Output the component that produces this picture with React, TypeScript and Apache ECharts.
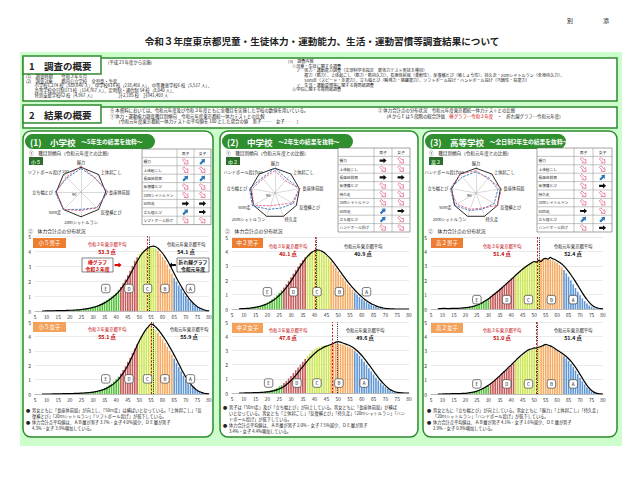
import React, { useEffect, useRef } from 'react';
import * as echarts from 'echarts';

const FONT = '"Noto Sans CJK JP", "Noto Sans", sans-serif';

// ---------- data ----------
const SCORES = [
  8, 9, 10, 11, 12, 13, 14, 15, 16, 17,
  18, 19, 20, 21, 22, 23, 24, 25, 26, 27,
  28, 29, 30, 31, 32, 33, 34, 35, 36, 37,
  38, 39, 40, 41, 42, 43, 44, 45, 46, 47,
  48, 49, 50, 51, 52, 53, 54, 55, 56, 57,
  58, 59, 60, 61, 62, 63, 64, 65, 66, 67,
  68, 69, 70, 71, 72, 73, 74, 75, 76, 77,
  78, 79, 80,
];

const S5_BOYS_R3 = [
  0, 0, 0.01, 0.01, 0.01, 0.02, 0.02, 0.03, 0.03, 0.04,
  0.04, 0.05, 0.06, 0.07, 0.08, 0.09, 0.1, 0.12, 0.14, 0.17,
  0.2, 0.24, 0.28, 0.33, 0.39, 0.46, 0.54, 0.63, 0.73, 0.84,
  0.95, 1.05, 1.2, 1.38, 1.6, 1.85, 2.1, 2.38, 2.68, 3.0,
  3.35, 3.58, 3.8, 3.93, 4.03, 4.12, 4.2, 4.25, 4.22, 4.15,
  4.02, 3.82, 3.6, 3.38, 3.1, 2.8, 2.5, 2.2, 1.95, 1.7,
  1.48, 1.22, 1.0, 0.82, 0.64, 0.5, 0.37, 0.26, 0.18, 0.11,
  0.06, 0.03, 0.01,
];
const S5_BOYS_R1 = [
  0, 0, 0.01, 0.01, 0.01, 0.01, 0.02, 0.02, 0.02, 0.03,
  0.03, 0.04, 0.05, 0.05, 0.06, 0.07, 0.08, 0.1, 0.12, 0.14,
  0.17, 0.2, 0.24, 0.28, 0.33, 0.39, 0.46, 0.54, 0.63, 0.73,
  0.85, 0.98, 1.12, 1.28, 1.46, 1.67, 1.9, 2.15, 2.42, 2.72,
  3.02, 3.3, 3.57, 3.8, 3.98, 4.12, 4.22, 4.3, 4.32, 4.28,
  4.18, 4.03, 3.85, 3.63, 3.38, 3.1, 2.8, 2.5, 2.2, 1.92,
  1.65, 1.38, 1.14, 0.92, 0.72, 0.55, 0.41, 0.29, 0.2, 0.13,
  0.07, 0.03, 0.01,
];
const S5_GIRLS_R3 = [
  0, 0, 0, 0, 0.01, 0.01, 0.01, 0.01, 0.02, 0.02,
  0.02, 0.03, 0.03, 0.04, 0.04, 0.05, 0.06, 0.07, 0.08, 0.09,
  0.11, 0.13, 0.16, 0.19, 0.23, 0.28, 0.34, 0.41, 0.5, 0.6,
  0.72, 0.86, 1.02, 1.2, 1.42, 1.66, 1.93, 2.22, 2.52, 2.84,
  3.15, 3.45, 3.75, 4.02, 4.26, 4.48, 4.65, 4.72, 4.62, 4.46,
  4.26, 4.03, 3.8, 3.55, 3.28, 3.0, 2.72, 2.45, 2.15, 1.85,
  1.56, 1.28, 1.02, 0.8, 0.61, 0.45, 0.32, 0.22, 0.14, 0.08,
  0.04, 0.02, 0.01,
];
const S5_GIRLS_R1 = [
  0, 0, 0, 0, 0, 0.01, 0.01, 0.01, 0.01, 0.02,
  0.02, 0.02, 0.03, 0.03, 0.04, 0.04, 0.05, 0.06, 0.07, 0.08,
  0.09, 0.11, 0.13, 0.16, 0.19, 0.23, 0.28, 0.34, 0.41, 0.5,
  0.6, 0.72, 0.86, 1.02, 1.22, 1.45, 1.7, 1.98, 2.3, 2.64,
  3.0, 3.36, 3.7, 4.0, 4.28, 4.52, 4.7, 4.85, 4.8, 4.65,
  4.48, 4.28, 4.06, 3.82, 3.56, 3.28, 3.0, 2.7, 2.4, 2.08,
  1.76, 1.46, 1.18, 0.92, 0.7, 0.52, 0.37, 0.25, 0.16, 0.1,
  0.05, 0.02, 0.01,
];
const M2_BOYS_R3 = [
  0.02, 0.03, 0.04, 0.05, 0.07, 0.09, 0.12, 0.15, 0.19, 0.24,
  0.3, 0.37, 0.45, 0.55, 0.67, 0.8, 0.95, 1.12, 1.3, 1.5,
  1.72, 1.95, 2.2, 2.45, 2.7, 2.95, 3.18, 3.4, 3.6, 3.76,
  3.9, 4.0, 4.06, 4.08, 4.04, 3.96, 3.84, 3.68, 3.5, 3.3,
  3.08, 2.85, 2.62, 2.38, 2.15, 1.93, 1.72, 1.52, 1.33, 1.15,
  0.99, 0.84, 0.71, 0.59, 0.48, 0.38, 0.3, 0.23, 0.17, 0.12,
  0.08, 0.05, 0.03, 0.02, 0.01, 0.01, 0, 0, 0, 0,
  0, 0, 0,
];
const M2_BOYS_R1 = [
  0.01, 0.02, 0.03, 0.04, 0.05, 0.07, 0.09, 0.12, 0.15, 0.19,
  0.24, 0.3, 0.37, 0.45, 0.55, 0.66, 0.79, 0.94, 1.1, 1.28,
  1.48, 1.7, 1.94, 2.2, 2.46, 2.72, 2.98, 3.22, 3.45, 3.65,
  3.82, 3.96, 4.05, 4.1, 4.08, 4.02, 3.92, 3.78, 3.62, 3.44,
  3.24, 3.02, 2.8, 2.57, 2.34, 2.12, 1.9, 1.7, 1.5, 1.32,
  1.15, 0.99, 0.84, 0.7, 0.58, 0.47, 0.37, 0.29, 0.22, 0.16,
  0.11, 0.07, 0.04, 0.02, 0.01, 0.01, 0, 0, 0, 0,
  0, 0, 0,
];
const M2_GIRLS_R3 = [
  0, 0, 0.01, 0.01, 0.02, 0.02, 0.03, 0.04, 0.05, 0.06,
  0.08, 0.1, 0.13, 0.17, 0.22, 0.28, 0.35, 0.45, 0.56, 0.7,
  0.85, 1.02, 1.2, 1.4, 1.6, 1.8, 2.0, 2.2, 2.4, 2.6,
  2.78, 2.95, 3.08, 3.18, 3.25, 3.3, 3.34, 3.38, 3.4, 3.44,
  3.47, 3.5, 3.48, 3.45, 3.4, 3.35, 3.28, 3.2, 3.1, 2.95,
  2.8, 2.62, 2.42, 2.2, 1.98, 1.75, 1.52, 1.3, 1.08, 0.88,
  0.7, 0.54, 0.4, 0.28, 0.19, 0.12, 0.07, 0.04, 0.02, 0.01,
  0, 0, 0,
];
const M2_GIRLS_R1 = [
  0, 0, 0, 0.01, 0.01, 0.01, 0.02, 0.02, 0.03, 0.04,
  0.05, 0.06, 0.08, 0.1, 0.13, 0.17, 0.22, 0.28, 0.36, 0.46,
  0.58, 0.72, 0.88, 1.05, 1.24, 1.44, 1.65, 1.86, 2.06, 2.26,
  2.45, 2.62, 2.78, 2.92, 3.04, 3.14, 3.23, 3.3, 3.36, 3.42,
  3.5, 3.58, 3.62, 3.58, 3.52, 3.46, 3.4, 3.33, 3.24, 3.12,
  2.98, 2.82, 2.64, 2.44, 2.22, 2.0, 1.77, 1.54, 1.31, 1.09,
  0.88, 0.69, 0.52, 0.37, 0.25, 0.16, 0.09, 0.05, 0.02, 0.01,
  0, 0, 0,
];
const H2_BOYS_R3 = [
  0.02, 0.02, 0.03, 0.03, 0.03, 0.04, 0.04, 0.05, 0.05, 0.06,
  0.07, 0.08, 0.1, 0.12, 0.15, 0.19, 0.24, 0.3, 0.37, 0.45,
  0.54, 0.64, 0.75, 0.88, 1.0, 1.13, 1.26, 1.4, 1.54, 1.68,
  1.82, 1.96, 2.1, 2.24, 2.38, 2.52, 2.66, 2.8, 2.92, 3.04,
  3.14, 3.24, 3.3, 3.36, 3.4, 3.44, 3.46, 3.48, 3.46, 3.44,
  3.38, 3.3, 3.2, 3.06, 2.9, 2.7, 2.48, 2.24, 1.98, 1.72,
  1.46, 1.2, 0.96, 0.74, 0.55, 0.38, 0.25, 0.15, 0.08, 0.04,
  0.02, 0.01, 0,
];
const H2_BOYS_R1 = [
  0.01, 0.02, 0.05, 0.04, 0.03, 0.03, 0.04, 0.05, 0.04, 0.05,
  0.06, 0.08, 0.09, 0.11, 0.13, 0.17, 0.21, 0.26, 0.33, 0.4,
  0.5, 0.6, 0.7, 0.82, 0.95, 1.08, 1.2, 1.34, 1.48, 1.62,
  1.77, 1.92, 2.06, 2.2, 2.36, 2.5, 2.64, 2.78, 2.9, 3.02,
  3.12, 3.22, 3.3, 3.25, 3.38, 3.3, 3.48, 3.52, 3.46, 3.58,
  3.5, 3.44, 3.34, 3.24, 3.12, 2.98, 2.8, 2.6, 2.38, 2.14,
  1.9, 1.64, 1.38, 1.12, 0.88, 0.66, 0.46, 0.3, 0.18, 0.1,
  0.05, 0.02, 0.01,
];
const H2_GIRLS_R3 = [
  0, 0, 0.01, 0.01, 0.01, 0.02, 0.02, 0.02, 0.03, 0.03,
  0.04, 0.05, 0.06, 0.08, 0.1, 0.13, 0.17, 0.22, 0.28, 0.35,
  0.43, 0.52, 0.62, 0.74, 0.87, 1.0, 1.14, 1.28, 1.42, 1.56,
  1.7, 1.84, 1.98, 2.12, 2.27, 2.42, 2.57, 2.7, 2.82, 2.93,
  3.02, 3.1, 3.17, 3.22, 3.27, 3.32, 3.36, 3.38, 3.34, 3.28,
  3.2, 3.1, 2.98, 2.86, 2.74, 2.62, 2.48, 2.3, 2.1, 1.88,
  1.64, 1.38, 1.12, 0.88, 0.66, 0.46, 0.3, 0.18, 0.1, 0.05,
  0.02, 0.01, 0,
];
const H2_GIRLS_R1 = [
  0, 0, 0, 0.01, 0.01, 0.01, 0.02, 0.02, 0.02, 0.03,
  0.03, 0.04, 0.05, 0.07, 0.09, 0.12, 0.15, 0.2, 0.26, 0.33,
  0.41, 0.5, 0.6, 0.72, 0.84, 0.98, 1.12, 1.26, 1.42, 1.56,
  1.72, 1.88, 2.02, 2.18, 2.34, 2.5, 2.64, 2.78, 2.9, 3.02,
  3.1, 3.14, 3.2, 3.18, 3.26, 3.3, 3.38, 3.44, 3.4, 3.34,
  3.26, 3.16, 3.06, 2.95, 2.84, 2.72, 2.6, 2.45, 2.28, 2.08,
  1.86, 1.62, 1.36, 1.1, 0.84, 0.6, 0.4, 0.24, 0.13, 0.06,
  0.03, 0.01, 0,
];

// five-level bands (upper bound of E, D, C, B)
const BAND_LETTERS = ['E', 'D', 'C', 'B', 'A'];
const CUTS_ES = [41, 49, 57, 64];
const CUTS_JH = [26, 36, 46, 56];
const CUTS_HS = [30, 41, 52, 62];

// Tokyo means (R3 / R1)
const MEAN_R3 = [53.3, 55.1, 40.1, 47.6, 51.4, 51.0];
const MEAN_R1 = [54.1, 55.9, 40.9, 49.6, 52.4, 51.4];
const CHART_TABS = ['小５男子', '小５女子', '中２男子', '中２女子', '高２男子', '高２女子'];

// radar items
const ITEMS_ES = ['握力', '上体起こし', '長座体前屈', '反復横とび', '20mシャトルラン', '50m走', '立ち幅とび', 'ソフトボール投げ'];
const ITEMS_JH = ['握力', '上体起こし', '長座体前屈', '反復横とび', '持久走', '20mシャトルラン', '50m走', '立ち幅とび', 'ハンドボール投げ'];
const ITEMS_HS = ['握力', '上体起こし', '長座体前屈', '反復横とび', '持久走', '20mシャトルラン', '50m走', '立ち幅とび', 'ハンドボール投げ'];
const BASE_ES = [100, 100, 100, 100, 100, 100, 100, 100];
const BASE_JH = [100, 100, 100, 100, 100, 100, 100, 100, 100];
const ES_BOYS = [99, 96, 101.5, 98, 94, 100, 101, 96];
const ES_GIRLS = [101, 96, 102, 98, 95, 100, 100, 97];
const JH_BOYS = [100, 95, 100, 97, 93, 94, 101, 101, 96];
const JH_GIRLS = [98, 93, 100, 96, 90, 91, 100, 99, 95];
const HS_BOYS = [97, 96, 98, 97, 94, 95, 100, 101, 97];
const HS_GIRLS = [98, 95, 101, 100, 93, 94, 98, 101, 100];

// trend table (U: up, D: down, S: same)
const TR_ES_BOYS = ['D', 'D', 'U', 'D', 'D', 'S', 'U', 'D'];
const TR_ES_GIRLS = ['U', 'D', 'U', 'D', 'D', 'S', 'S', 'D'];
const TR_JH_BOYS = ['S', 'D', 'S', 'D', 'D', 'D', 'U', 'U', 'D'];
const TR_JH_GIRLS = ['D', 'D', 'S', 'D', 'D', 'D', 'S', 'D', 'D'];
const TR_HS_BOYS = ['D', 'D', 'D', 'D', 'D', 'D', 'S', 'U', 'D'];
const TR_HS_GIRLS = ['D', 'D', 'U', 'S', 'D', 'D', 'D', 'U', 'S'];

// ---------- styles / layout ----------
const BAND_COLORS = ['#55c23e', '#c65b5b', '#cde752', '#f6aa62', '#6197d4'];
const GREEN = '#2e8b2e';
const DARK_GREEN = '#2f8f2f';

const DISTS = [
  { r3: S5_BOYS_R3, r1: S5_BOYS_R1, cuts: CUTS_ES },
  { r3: S5_GIRLS_R3, r1: S5_GIRLS_R1, cuts: CUTS_ES },
  { r3: M2_BOYS_R3, r1: M2_BOYS_R1, cuts: CUTS_JH },
  { r3: M2_GIRLS_R3, r1: M2_GIRLS_R1, cuts: CUTS_JH },
  { r3: H2_BOYS_R3, r1: H2_BOYS_R1, cuts: CUTS_HS },
  { r3: H2_GIRLS_R3, r1: H2_GIRLS_R1, cuts: CUTS_HS },
];

const LAYOUT = [
  { grid: { left: 35, top: 236, width: 174, height: 75 }, tab: [33, 238, 33], r3: [107, 244], r1: [186, 244], ly: 1.5, lx: [35.5, 45.5, 53.5, 61, 72] },
  { grid: { left: 35, top: 322, width: 174, height: 72 }, tab: [33, 322, 33], r3: [107, 329], r1: [189, 329], ly: 1.05, lx: [35.5, 45.5, 53.5, 61, 72] },
  { grid: { left: 232, top: 237, width: 177, height: 72 }, tab: [232, 238, 31], r3: [288, 246], r1: [363, 246], ly: 1.2, lx: [20, 31, 41, 50.5, 62] },
  { grid: { left: 232, top: 322, width: 177, height: 71 }, tab: [232, 323, 31], r3: [288, 330], r1: [365, 330], ly: 0.7, lx: [20.5, 32.5, 41, 50.3, 61] },
  { grid: { left: 431, top: 237, width: 172, height: 72 }, tab: [431, 238, 32], r3: [502, 246], r1: [573, 246], ly: 0.65, lx: [25, 38, 47.5, 57.5, 67] },
  { grid: { left: 431, top: 322, width: 172, height: 72 }, tab: [431, 323, 32], r3: [502, 330], r1: [573, 330], ly: 0.7, lx: [25, 38, 47.5, 57.5, 67] },
];

// ---------- helpers ----------
function T(x: number, y: number, text: string, o: any = {}) {
  const align = o.align || 'left';
  const va = o.va || 'middle';
  return {
    type: 'text', x, y, z: o.z ?? 30, silent: true,
    style: {
      text, fill: o.color || '#222', fontSize: o.size || 5, fontFamily: FONT,
      fontWeight: o.bold ? 'bold' : 'normal',
      align, verticalAlign: va, textAlign: align, textVerticalAlign: va,
      rich: o.rich,
    },
  };
}
function R(x: number, y: number, w: number, h: number, o: any = {}) {
  return {
    type: 'rect', z: o.z ?? 1, silent: true,
    shape: { x, y, width: w, height: h, r: o.r || 0 },
    style: { fill: o.fill ?? '#fff', stroke: o.stroke || null, lineWidth: o.lw ?? 1 },
  };
}
function L(x1: number, y1: number, x2: number, y2: number, o: any = {}) {
  return {
    type: 'line', z: o.z ?? 20, silent: true,
    shape: { x1, y1, x2, y2 },
    style: { stroke: o.color || '#999', lineWidth: o.lw || 0.5 },
  };
}
const ARROW = [[-3.4, -1.1], [0.5, -1.1], [0.5, -2.6], [3.6, 0], [0.5, 2.6], [0.5, 1.1], [-3.4, 1.1]];
function arrow(cx: number, cy: number, t: string, o: any = {}) {
  let style: any;
  let rot = 0;
  if (t === 'U') { style = { fill: '#2e75b6' }; rot = Math.PI / 4; }
  else if (t === 'D') { style = { fill: '#fff', stroke: '#e2607e', lineWidth: 0.7 }; rot = -Math.PI / 4; }
  else if (t === 'L') { style = { fill: o.fill || '#111' }; rot = Math.PI; }
  else { style = { fill: o.fill || '#111' }; rot = 0; }
  return { type: 'polygon', x: cx, y: cy, rotation: rot, z: 32, silent: true, shape: { points: ARROW }, style };
}
function bandIndex(s: number, cuts: number[]) {
  let i = 0;
  while (i < cuts.length && s > cuts[i]) i++;
  return i;
}
function clockwise<T>(arr: T[]): T[] {
  return [arr[0], ...arr.slice(1).reverse()];
}
function table(x: number, y: number, cw: number[], rh: number, items: string[], boys: string[], girls: string[]) {
  const els: any[] = [];
  const W = cw[0] + cw[1] + cw[2];
  const n = items.length + 1;
  els.push(R(x, y, W, rh * n, { fill: '#fff', stroke: '#666', lw: 0.6, z: 15 }));
  for (let i = 1; i < n; i++) els.push(L(x, y + i * rh, x + W, y + i * rh, { color: '#888', lw: 0.5 }));
  els.push(L(x + cw[0], y, x + cw[0], y + rh * n, { color: '#888', lw: 0.5 }));
  els.push(L(x + cw[0] + cw[1], y, x + cw[0] + cw[1], y + rh * n, { color: '#888', lw: 0.5 }));
  els.push(T(x + cw[0] + cw[1] / 2, y + rh / 2, '男子', { size: 3.8, align: 'center' }));
  els.push(T(x + cw[0] + cw[1] + cw[2] / 2, y + rh / 2, '女子', { size: 3.8, align: 'center' }));
  items.forEach((it, i) => {
    const cy = y + (i + 1.5) * rh;
    els.push(T(x + 1.5, cy, it, { size: 3.7 }));
    els.push(arrow(x + cw[0] + cw[1] / 2, cy, boys[i]));
    els.push(arrow(x + cw[0] + cw[1] + cw[2] / 2, cy, girls[i]));
  });
  return els;
}

function buildOption() {
  const grids: any[] = [];
  const xAxes: any[] = [];
  const yAxes: any[] = [];
  const series: any[] = [];
  const g: any[] = [];

  // ---- page background & frames ----
  g.push(R(20, 52, 602, 394, { fill: '#ccffcc', z: -10 }));
  g.push(T(567, 20, '別', { size: 6 }));
  g.push(T(603, 20, '添', { size: 6 }));
  g.push(T(322, 41, '令和３年度東京都児童・生徒体力・運動能力、生活・運動習慣等調査結果について', { size: 9.6, bold: true, align: 'center' }));

  // section 1
  g.push(R(23, 58, 594, 43, { fill: '#fff', stroke: GREEN, lw: 1.5, z: -5 }));
  g.push(R(23, 56, 78, 18, { fill: '#fff', stroke: GREEN, lw: 1.5, z: -4 }));
  g.push(T(29, 65.5, '1　調査の概要', { size: 9.5, bold: true }));
  g.push(T(108, 62, '(平成 23 年度から実施)', { size: 4.3 }));
  const s1L = [
    '(1)　調査時期　　令和３年６月',
    '(2)　調査対象　　都内公立学校　全児童・生徒',
    '　　小学校1,274 校（589,646 人）、中学校616 校（218,466 人）、中等教育学校6 校（5,517 人）、',
    '　　高等学校全日制173 校（114,767 人）、定時制・通信制 54 校（8,040 人）、',
    '　　特別支援学校62 校（4,967 人）　　　　　　計2,185 校　計941,403 人',
  ];
  s1L.forEach((t, i) => g.push(T(26, 76 + i * 4.7, t, { size: 4.3 })));
  const s1R = [
    '(3)　調査内容',
    '　①児童・生徒に関する調査',
    '　　ア　体力・運動能力調査（文部科学省指定　新体力テスト実技８種目）',
    '　　　　握力（筋力）、上体起こし（筋力・筋持久力）、長座体前屈（柔軟性）、反復横とび（敏しょう性）、持久走・20mシャトルラン（全身持久力）、',
    '　　　　50m走（スピード・走能力）、立ち幅とび（瞬発力・跳躍能力）、ソフトボール投げ・ハンドボール投げ（巧緻性・投能力）',
    '　　イ　生活・運動習慣等に関する質問紙調査',
    '　②学校に関する質問紙調査',
  ];
  s1R.forEach((t, i) => g.push(T(288, 61 + i * 4.7, t, { size: 4.1 })));

  // section 2
  g.push(R(23, 107, 594, 21, { fill: '#fff', stroke: GREEN, lw: 1.5, z: -5 }));
  g.push(R(23, 105, 78, 18, { fill: '#fff', stroke: GREEN, lw: 1.5, z: -4 }));
  g.push(T(29, 114.5, '2　結果の概要', { size: 9.5, bold: true }));
  g.push(T(110, 110, '※ 本資料においては、令和元年度及び令和３年度ともに全種目を実施した学校の数値を用いている。', { size: 4.4 }));
  g.push(T(110, 115.5, '① 体力・運動能力調査種目別傾向　令和元年度東京都統一体力テストとの比較', { size: 4.4 }));
  const rs = { fontSize: 4.4, fontFamily: FONT };
  const t2: any = T(116, 121, '', {
    size: 4.4,
    rich: {
      n: { ...rs, fill: '#222', color: '#222' },
      b: { ...rs, fill: '#2e75b6', color: '#2e75b6' },
      r: { ...rs, fill: '#e0607e', color: '#e0607e' },
    },
  });
  t2.style.text = '{n|（令和元年度東京都統一体力テストの平均値を 100 とした場合の値　男子 }{b|------}{n|　女子 }{r|- - -}{n|　）}';
  g.push(t2);
  g.push(T(378, 110, '② 体力合計点の分布状況　令和元年度東京都統一体力テストとの比較', { size: 4.4 }));
  const t3: any = T(384, 115.5, '', {
    size: 4.4,
    rich: {
      n: { ...rs, fill: '#222', color: '#222' },
      r: { ...rs, fill: '#d00000', color: '#d00000' },
    },
  });
  t3.style.text = '{n|（A から E は５段階の総合評価　}{r|棒グラフ…令和３年度}{n|　・　折れ線グラフ…令和元年度）}';
  g.push(t3);

  // panels
  const PANELS = [
    { x: 23, w: 190, tab: '(1)　小学校', sub: '　～5年生の結果を抜粋～', tabW: 130, lbl: '小５' },
    { x: 220, w: 198, tab: '(2)　中学校', sub: '　～2年生の結果を抜粋～', tabW: 131, lbl: '中２' },
    { x: 423, w: 194, tab: '(3)　高等学校', sub: '　～全日制2年生の結果を抜粋～', tabW: 141, lbl: '高２' },
  ];
  PANELS.forEach((p) => {
    g.push(R(p.x, 131, p.w, 306, { fill: '#fff', stroke: GREEN, lw: 1.5, r: 8, z: -5 }));
    g.push(R(p.x + 2, 134, p.tabW, 15, { fill: DARK_GREEN, r: 7.5, z: -4 }));
    const t: any = T(p.x + 7, 141.5, '', {
      rich: {
        a: { fontSize: 8.5, fontWeight: 'bold', fontFamily: FONT, fill: '#fff', color: '#fff' },
        b: { fontSize: 5.8, fontWeight: 'bold', fontFamily: FONT, fill: '#fff', color: '#fff' },
      },
    });
    t.style.text = `{a|${p.tab}}{b|${p.sub}}`;
    g.push(t);
    g.push(T(p.x + 6, 152.5, '①　種目別傾向（令和元年度との比較）', { size: 4.6 }));
    g.push(R(p.x + 6, 157, 14, 8, { fill: '#2d6a2d', z: 10 }));
    g.push(T(p.x + 13, 161, p.lbl, { size: 5, color: '#b8f0b0', align: 'center', bold: true }));
    g.push(T(p.x + 5, 230, '②　体力合計点の分布状況', { size: 4.8 }));
  });

  // tables
  g.push(...table(142, 149, [35, 17, 17], 8.4, ITEMS_ES, TR_ES_BOYS, TR_ES_GIRLS));
  g.push(...table(338, 148, [36, 18, 18], 8.4, ITEMS_JH, TR_JH_BOYS, TR_JH_GIRLS));
  g.push(...table(537, 148, [37, 19, 19], 8.4, ITEMS_HS, TR_HS_BOYS, TR_HS_GIRLS));

  // radars
  const RADARS = [
    { c: [81, 192], items: ITEMS_ES, base: BASE_ES, boys: ES_BOYS, girls: ES_GIRLS },
    { c: [275, 193], items: ITEMS_JH, base: BASE_JH, boys: JH_BOYS, girls: JH_GIRLS },
    { c: [476, 193], items: ITEMS_HS, base: BASE_JH, boys: HS_BOYS, girls: HS_GIRLS },
  ];
  const radar = RADARS.map((r) => ({
    center: r.c, radius: 26, startAngle: 90, shape: 'polygon', splitNumber: 3,
    indicator: clockwise(r.items).map((n) => ({ name: n, min: 80, max: 101 })),
    axisName: { color: '#222', fontSize: 4.2, fontFamily: FONT },
    nameGap: 2,
    splitLine: { show: false }, splitArea: { show: false },
    axisLine: { lineStyle: { color: '#b5b5b5', width: 0.5 } },
    axisTick: { show: false }, axisLabel: { show: false },
  }));
  RADARS.forEach((r, i) => {
    series.push({
      type: 'radar', radarIndex: i, symbol: 'none', silent: true, z: 5,
      data: [
        { value: clockwise(r.base), lineStyle: { color: '#111', width: 0.9 } },
        { value: clockwise(r.boys), lineStyle: { color: '#2e75b6', width: 0.9, type: [2.5, 1.2] } },
        { value: clockwise(r.girls), lineStyle: { color: '#e0607e', width: 0.9, type: [2.5, 1.2] } },
      ],
    });
    g.push(T(r.c[0] - 19, r.c[1] - 21, '100', { size: 4 }));
    g.push(T(r.c[0] - 9, r.c[1] + 2, '90', { size: 4 }));
  });

  // distribution charts
  DISTS.forEach((d, i) => {
    const lay = LAYOUT[i];
    grids.push({ ...lay.grid, containLabel: false });
    xAxes.push({
      type: 'value', gridIndex: i, min: 5, max: 80, interval: 5,
      axisLine: { show: true, lineStyle: { color: '#999', width: 0.6 } },
      axisTick: { show: false }, splitLine: { show: false },
      axisLabel: { fontSize: 4.8, color: '#333', margin: 3, fontFamily: FONT },
    });
    yAxes.push({
      type: 'value', gridIndex: i, min: 0, max: 5, interval: 1,
      axisLine: { show: false }, axisTick: { show: false },
      splitLine: { lineStyle: { color: '#d6d6d6', width: 0.5 } },
      axisLabel: { fontSize: 5, color: '#333', margin: 4, fontFamily: FONT },
    });
    series.push({
      type: 'bar', xAxisIndex: i, yAxisIndex: i, barWidth: 1.6, silent: true, z: 2,
      data: SCORES.map((s, k) => ({ value: [s, d.r3[k]], itemStyle: { color: BAND_COLORS[bandIndex(s, d.cuts)] } })),
      markPoint: {
        symbol: 'roundRect', symbolSize: 8.5, silent: true,
        itemStyle: { color: '#fff', borderColor: '#444', borderWidth: 0.7 },
        label: { show: true, formatter: (p: any) => p.name, fontSize: 4.5, color: '#111', fontFamily: FONT, position: 'inside' },
        data: BAND_LETTERS.map((l, j) => ({ name: l, coord: [lay.lx[j], lay.ly] })),
      },
    });
    series.push({
      type: 'line', xAxisIndex: i, yAxisIndex: i, symbol: 'none', smooth: 0.25, silent: true, z: 4,
      lineStyle: { color: '#000', width: 1.2 },
      data: SCORES.map((s, k) => [s, d.r1[k]]),
      markLine: {
        silent: true, symbol: ['none', 'none'], label: { show: false },
        data: [
          { xAxis: MEAN_R3[i], lineStyle: { color: '#c00000', type: [2, 1.5], width: 0.9 } },
          { xAxis: MEAN_R1[i], lineStyle: { color: '#111', type: [1, 1.2], width: 0.9 } },
        ],
      },
    });
    // tab
    const girl = i % 2 === 1;
    g.push(R(lay.tab[0], lay.tab[1], lay.tab[2], 10, { fill: girl ? '#f4a15a' : '#ed7d31', z: 25 }));
    g.push(T(lay.tab[0] + lay.tab[2] / 2, lay.tab[1] + 5, CHART_TABS[i], { size: 5.5, color: '#fff', align: 'center' }));
    // mean labels
    g.push(T(lay.r3[0], lay.r3[1], '令和３年東京都平均', { size: 4.3, color: '#c00000', align: 'center' }));
    g.push(T(lay.r3[0], lay.r3[1] + 7.5, `${MEAN_R3[i].toFixed(1)} 点`, { size: 5.3, color: '#c00000', bold: true, align: 'center' }));
    g.push(T(lay.r1[0], lay.r1[1], '令和元年東京都平均', { size: 4.3, color: '#111', align: 'center' }));
    g.push(T(lay.r1[0], lay.r1[1] + 7.5, `${MEAN_R1[i].toFixed(1)} 点`, { size: 5.3, color: '#111', bold: true, align: 'center' }));
  });

  // callouts (小５男子)
  g.push(R(82, 258, 31, 14, { fill: '#fff', stroke: '#333', lw: 0.6, z: 26 }));
  g.push(T(97.5, 261.8, '棒グラフ', { size: 4.8, color: '#d00000', bold: true, align: 'center' }));
  g.push(T(97.5, 268.2, '令和３年度', { size: 4.8, color: '#d00000', bold: true, align: 'center' }));
  g.push(arrow(118, 265, 'S', { fill: '#e00000' }));
  g.push(R(177, 258, 32, 14, { fill: '#fff', stroke: '#333', lw: 0.6, z: 26 }));
  g.push(T(193, 261.8, '折れ線グラフ', { size: 4.8, color: '#111', bold: true, align: 'center' }));
  g.push(T(193, 268.2, '令和元年度', { size: 4.8, color: '#111', bold: true, align: 'center' }));
  g.push(arrow(172.5, 265, 'L'));

  // bullets
  const BULLETS = [
    { x: 26, y: 410, lines: [
      ['●', '男女ともに「長座体前屈」が向上し、「50ｍ走」は横ばいとなっている。「上体起こし」「反'],
      ['', '復横とび」「20ｍシャトルラン」「ソフトボール投げ」が低下している。'],
      ['●', '体力合計点平均値は、ＡＢ層が男子 3.7%・女子 4.0%減少、ＤＥ層が男子'],
      ['', '4.3%・女子 3.9%増加している。'],
    ] },
    { x: 223, y: 407, lines: [
      ['●', '男子は「50ｍ走」及び「立ち幅とび」が向上している。男女ともに「長座体前屈」が横ば'],
      ['', 'いとなっている。男女とも「上体起こし」「反復横とび」「持久走」「20ｍシャトルラン」「ハン'],
      ['', 'ドボール投げ」が低下している。'],
      ['●', '体力合計点平均値は、ＡＢ層が男子 2.0%・女子 7.5%減少、ＤＥ層が男子'],
      ['', '3.4%・女子 4.4%増加している。'],
    ] },
    { x: 427, y: 410, lines: [
      ['●', '男女ともに「立ち幅とび」が向上している。男女ともに「握力」「上体起こし」「持久走」'],
      ['', '「20ｍシャトルラン」「ハンドボール投げ」が低下している。'],
      ['●', '体力合計点平均値は、ＡＢ層が男子 4.1%・女子 1.6%減少、ＤＥ層が男子'],
      ['', '2.9%・女子 0.8%増加している。'],
    ] },
  ];
  BULLETS.forEach((b) => {
    b.lines.forEach((ln, i) => {
      const y = b.y + i * 6;
      if (ln[0]) g.push(T(b.x, y, ln[0], { size: 4.2 }));
      g.push(T(b.x + 6, y, ln[1], { size: 4.2 }));
    });
  });

  return {
    animation: false,
    backgroundColor: '#fff',
    textStyle: { fontFamily: FONT },
    grid: grids,
    xAxis: xAxes,
    yAxis: yAxes,
    radar,
    series,
    graphic: { elements: g },
  };
}

export default function App() {
  const ref = useRef<HTMLDivElement>(null);
  useEffect(() => {
    const chart = echarts.init(ref.current!, null, { renderer: 'svg' });
    chart.setOption(buildOption() as any);
    return () => chart.dispose();
  }, []);
  return (
    <div
      ref={ref}
      style={{ position: 'absolute', left: 0, top: 0, width: 640, height: 478, background: '#fff' }}
    />
  );
}
